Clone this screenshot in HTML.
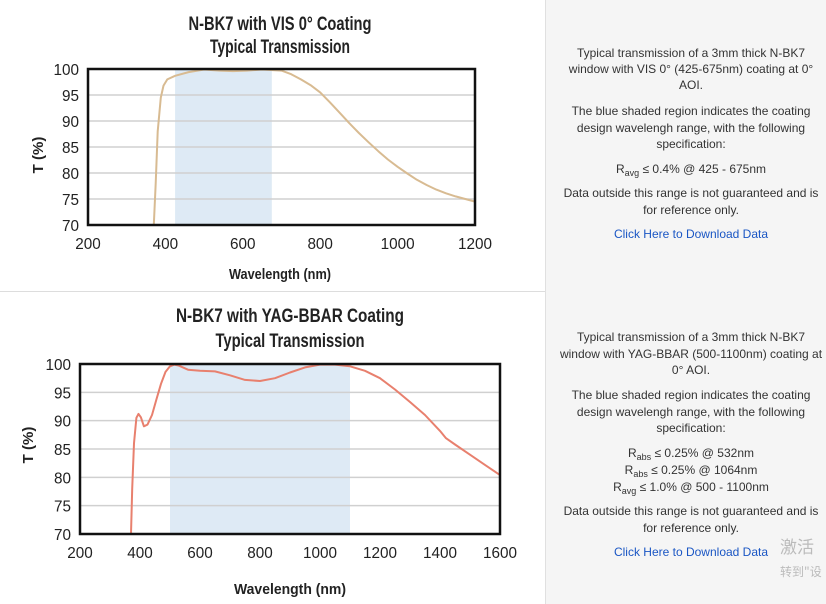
<!DOCTYPE html>
<html><head><meta charset="utf-8"><style>
body{margin:0;width:826px;height:604px;overflow:hidden;background:#fff;position:relative;font-family:"Liberation Sans",sans-serif}
#rp{position:absolute;left:545px;top:0;width:281px;height:604px;background:#f5f5f5;border-left:1px solid #e0e0e0;overflow:hidden}
.l{position:absolute;left:0;width:290px;text-align:center;font-size:12px;color:#333;white-space:nowrap}
.a{color:#1a56c4}
sub{font-size:9px;vertical-align:-3px;line-height:0}
#hr{position:absolute;left:0;top:291px;width:826px;height:1px;background:#ddd}
</style></head><body>
<svg id="s" width="545" height="604" style="position:absolute;left:0;top:0" font-family="Liberation Sans, sans-serif"></svg>
<div id="hr"></div>
<div id="rp">
<div class="l" style="top:46px">Typical transmission of a 3mm thick N-BK7</div>
<div class="l" style="top:62px">window with VIS 0° (425-675nm) coating at 0°</div>
<div class="l" style="top:78px">AOI.</div>
<div class="l" style="top:104px">The blue shaded region indicates the coating</div>
<div class="l" style="top:121px">design wavelengh range, with the following</div>
<div class="l" style="top:137px">specification:</div>
<div class="l" style="top:162px">R<sub>avg</sub> ≤ 0.4% @ 425 - 675nm</div>
<div class="l" style="top:186px">Data outside this range is not guaranteed and is</div>
<div class="l" style="top:203px">for reference only.</div>
<div class="l a" style="top:227px">Click Here to Download Data</div>

<div class="l" style="top:330px">Typical transmission of a 3mm thick N-BK7</div>
<div class="l" style="top:347px">window with YAG-BBAR (500-1100nm) coating at</div>
<div class="l" style="top:363px">0° AOI.</div>
<div class="l" style="top:388px">The blue shaded region indicates the coating</div>
<div class="l" style="top:405px">design wavelengh range, with the following</div>
<div class="l" style="top:421px">specification:</div>
<div class="l" style="top:446px">R<sub>abs</sub> ≤ 0.25% @ 532nm</div>
<div class="l" style="top:463px">R<sub>abs</sub> ≤ 0.25% @ 1064nm</div>
<div class="l" style="top:480px">R<sub>avg</sub> ≤ 1.0% @ 500 - 1100nm</div>
<div class="l" style="top:504px">Data outside this range is not guaranteed and is</div>
<div class="l" style="top:521px">for reference only.</div>
<div class="l a" style="top:545px">Click Here to Download Data</div>
<div style="position:absolute;left:234px;top:536px;font-size:17px;line-height:20px;color:#bbb;font-family:'Noto Sans CJK SC',sans-serif">激活</div>
<div style="position:absolute;left:234px;top:565px;font-size:12px;line-height:14px;color:#bbb;font-family:'Noto Sans CJK SC',sans-serif">转到"设</div>
</div>
<script>
const s=document.getElementById('s');let h='';
function chart(c){
 const X=w=>c.x0+(w-c.w0)/(c.w1-c.w0)*(c.x1-c.x0), Y=t=>c.y1-(t-70)/30*(c.y1-c.y0);
 h+=`<rect x="${X(c.b0)}" y="${c.y0}" width="${X(c.b1)-X(c.b0)}" height="${c.y1-c.y0}" fill="#deeaf5"/>`;
 for(let t=75;t<100;t+=5)h+=`<line x1="${c.x0}" x2="${c.x1}" y1="${Y(t)}" y2="${Y(t)}" stroke="#d0d0d0" stroke-width="1.5"/>`;
 for(let t=70;t<=100;t+=5){const n=String(t).length;h+=`<text x="${c.x0-9}" y="${Y(t)+6}" text-anchor="end" font-size="16" fill="#222" textLength="${n*8.5}" lengthAdjust="spacingAndGlyphs">${t}</text>`;}
 for(let w=c.w0;w<=c.w1;w+=200){const n=String(w).length;h+=`<text x="${X(w)}" y="${c.y1+24}" text-anchor="middle" font-size="16" fill="#222" textLength="${n*8.5}" lengthAdjust="spacingAndGlyphs">${w}</text>`;}
 let p=c.pts.map(q=>X(q[0]).toFixed(1)+','+Y(q[1]).toFixed(1)).join(' ');
 h+=`<polyline points="${p}" fill="none" stroke="${c.col}" stroke-width="2" stroke-linejoin="round"/>`;
 h+=`<rect x="${c.x0}" y="${c.y0}" width="${c.x1-c.x0}" height="${c.y1-c.y0}" fill="none" stroke="#111" stroke-width="2.5"/>`;
 h+=`<text x="${c.tx}" y="${c.t1y}" text-anchor="middle" font-size="19" font-weight="bold" fill="#222" textLength="${c.t1w}" lengthAdjust="spacingAndGlyphs">${c.t1}</text>`;
 h+=`<text x="${c.tx}" y="${c.t2y}" text-anchor="middle" font-size="19" font-weight="bold" fill="#222" textLength="${c.t2w}" lengthAdjust="spacingAndGlyphs">Typical Transmission</text>`;
 h+=`<text x="${c.tx}" y="${c.wy}" text-anchor="middle" font-size="15" font-weight="bold" fill="#222" textLength="${c.ww}" lengthAdjust="spacingAndGlyphs">Wavelength (nm)</text>`;
 h+=`<text transform="translate(${c.tyx},${c.tyy}) rotate(-90)" text-anchor="middle" font-size="15" font-weight="bold" fill="#222">T (%)</text>`;
}
chart({x0:88,x1:475,y0:69,y1:225,w0:200,w1:1200,b0:425,b1:675,col:"#d8bb92",tx:280,t1:"N-BK7 with VIS 0° Coating",t1y:30,t1w:183,t2y:53,t2w:140,wy:279,ww:102,tyx:43,tyy:155,
pts:[[370,70],[375,78],[380,88],[388,94.5],[395,96.8],[405,98],[425,98.7],[460,99.4],[500,99.9],[540,99.7],[575,99.6],[610,99.7],[650,99.9],[700,99.7],[725,99],[750,98],[775,96.9],[800,95.5],[825,93.6],[850,91.6],[875,89.6],[900,87.7],[925,85.9],[950,84.2],[975,82.6],[1000,81.2],[1025,79.9],[1050,78.7],[1075,77.7],[1100,76.8],[1125,76.1],[1150,75.5],[1175,75],[1200,74.5]]});
chart({x0:80,x1:500,y0:364,y1:534,w0:200,w1:1600,b0:500,b1:1100,col:"#e8806e",tx:290,t1:"N-BK7 with YAG-BBAR Coating",t1y:322,t1w:228,t2y:347,t2w:149,wy:594,ww:112,tyx:33,tyy:445,
pts:[[370,70],[374,78],[380,86],[388,90.5],[395,91.2],[403,90.6],[413,89],[425,89.3],[440,91],[455,93.8],[470,96.5],[485,98.6],[500,99.6],[515,99.9],[530,99.7],[560,99.0],[600,98.8],[650,98.7],[700,98],[750,97.2],[800,97],[850,97.5],[900,98.5],[950,99.4],[1000,99.9],[1050,99.9],[1100,99.6],[1150,98.8],[1200,97.5],[1250,95.5],[1300,93.3],[1350,91],[1400,88.2],[1420,86.9],[1450,85.8],[1500,84],[1550,82.2],[1600,80.4]]});
s.innerHTML=h;
</script>
</body></html>
